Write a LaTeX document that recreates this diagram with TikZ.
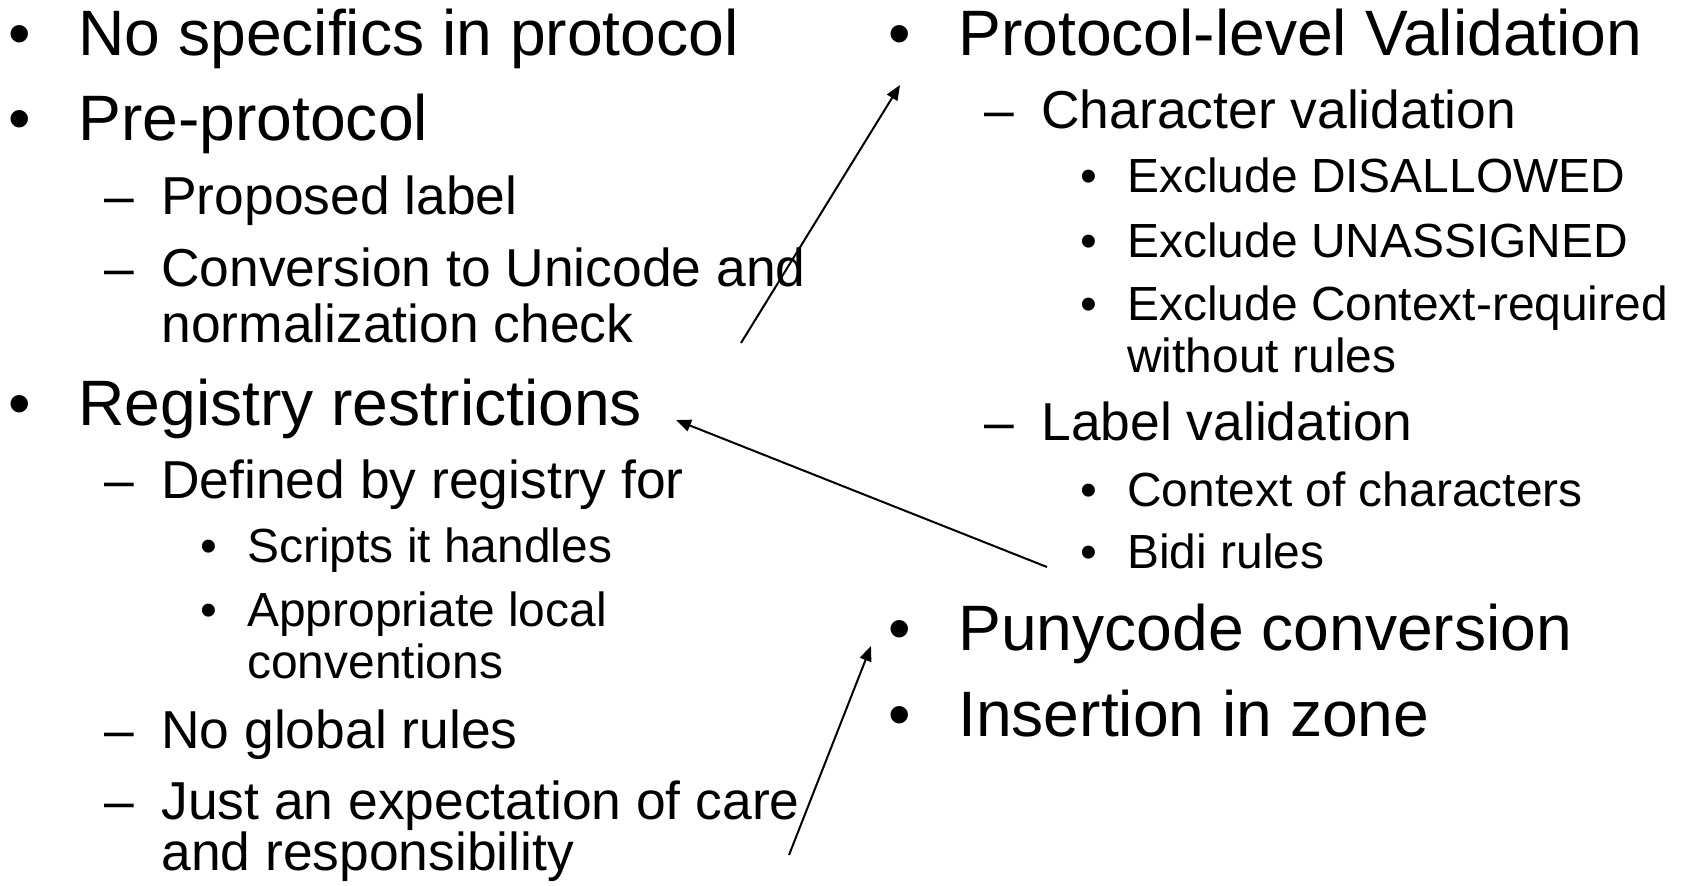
\documentclass[tikz,border=0pt]{standalone}
\usepackage{fontspec}
\setmainfont{Liberation Sans}
\usetikzlibrary{arrows.meta}

\tikzset{
  lvone/.style={anchor=base west, inner sep=0pt, align=left, font=\fontsize{32.1}{38}\selectfont},
  lvtwo/.style={anchor=base west, inner sep=0pt, align=left, font=\fontsize{26.7}{25.5}\selectfont},
  lvthree/.style={anchor=base west, inner sep=0pt, align=left, font=\fontsize{23.95}{25.75}\selectfont},
  conn/.style={-{Triangle[length=7.5pt, width=6pt]}, line width=1pt}
}
\newcommand{\dotone}{\llap{\makebox[59pt][c]{•}}}
\newcommand{\dashtwo}{\llap{–\hspace{13.5pt}}}
\newcommand{\dotthree}{\llap{\makebox[39pt][c]{•}}}

\begin{document}
\begin{tikzpicture}[x=0.5pt, y=-0.5pt]
    \useasboundingbox (0,0) rectangle (1682,885);

    % Left column (multi-line items sit on their last baseline)
    \node[lvone] (spec) at (78,55) {\dotone No specifics in protocol};
    \node[lvone] (pre) at (78,140) {\dotone Pre-protocol};
    \node[lvtwo] (prop) at (161,214) {\dashtwo Proposed label};
    \node[lvtwo] (conv) at (161,342) {\dashtwo Conversion to Unicode and\\[2.5pt]normalization check};
    \node[lvone] (reg) at (78,425) {\dotone Registry restrictions};
    \node[lvtwo] (def) at (161,498) {\dashtwo Defined by registry for};
    \node[lvthree] (scr) at (247,562) {\dotthree Scripts it handles};
    \node[lvthree] (loc) at (247,678) {\dotthree Appropriate local\\conventions};
    \node[lvtwo] (glob) at (161,748) {\dashtwo No global rules};
    \node[lvtwo] (care) at (161,870) {\dashtwo Just an expectation of care\\and responsibility};

    % Right column
    \node[lvone] (val) at (958,55) {\dotone Protocol-level Validation};
    \node[lvtwo] (chr) at (1041,128) {\dashtwo Character validation};
    \node[lvthree] (dis) at (1127,192) {\dotthree Exclude DISALLOWED};
    \node[lvthree] (una) at (1127,257) {\dotthree Exclude UNASSIGNED};
    \node[lvthree] (ctx) at (1127,372) {\dotthree Exclude Context-required\\without rules};
    \node[lvtwo] (lab) at (1041,440) {\dashtwo Label validation};
    \node[lvthree] (cch) at (1127,506) {\dotthree Context of characters};
    \node[lvthree] (bidi) at (1127,568) {\dotthree Bidi rules};
    \node[lvone] (puny) at (958,650) {\dotone Punycode conversion};
    \node[lvone] (ins) at (958,736) {\dotone Insertion in zone};

    % Arrows
    \coordinate (convend) at (741,343);
    \coordinate (valtip) at (900,85);
    \coordinate (bidiend) at (1047,567);
    \coordinate (regtip) at (676,420);
    \coordinate (careend) at (789,855);
    \coordinate (punytip) at (871,646);
    \draw[conn] (convend) -- (valtip);
    \draw[conn] (bidiend) -- (regtip);
    \draw[conn] (careend) -- (punytip);
\end{tikzpicture}
\end{document}
